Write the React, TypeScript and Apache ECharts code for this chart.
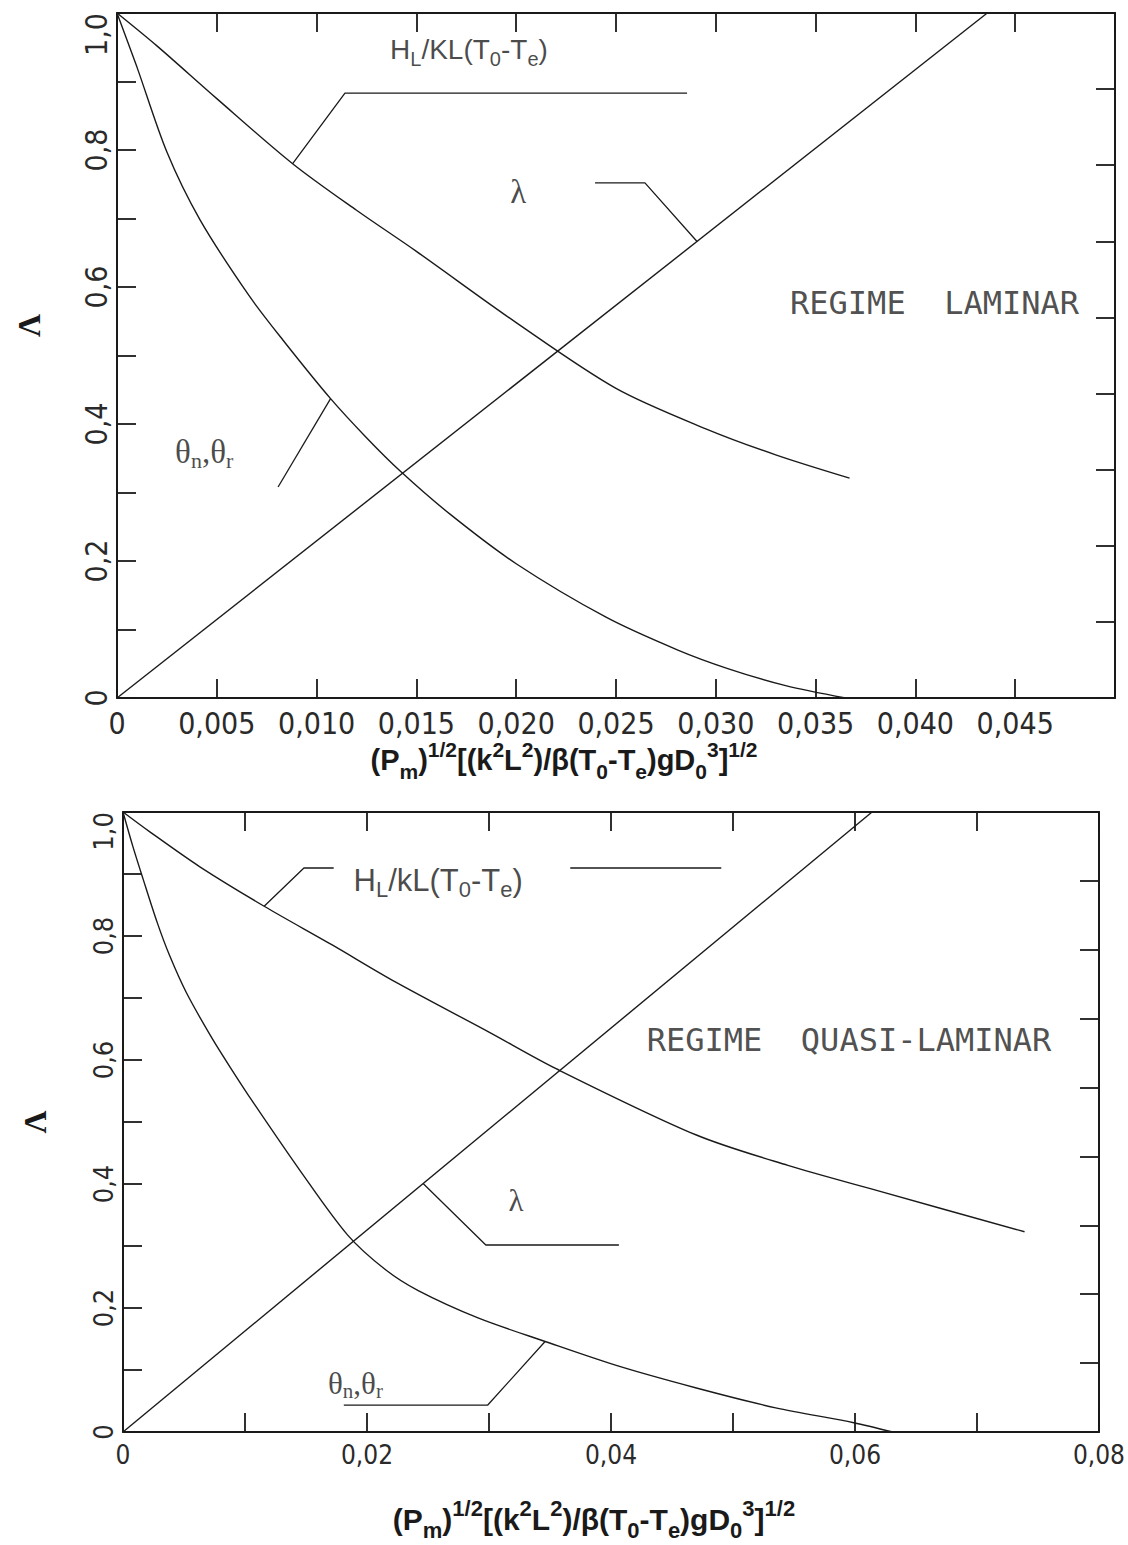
import React, { useEffect, useRef } from "react";
import * as echarts from "echarts";

// ---------- Upper panel: laminar regime ----------
const LAM_H_X = [0, 0.002, 0.005, 0.0088, 0.012, 0.015, 0.02, 0.025, 0.0295, 0.033, 0.0367];
const LAM_H_Y = [1.0, 0.952, 0.875, 0.78, 0.712, 0.652, 0.548, 0.452, 0.393, 0.355, 0.321];

const LAM_THETA_X = [0, 0.001, 0.0025, 0.00416, 0.0066, 0.0083, 0.0107, 0.0125, 0.0142, 0.0167, 0.02, 0.0245, 0.0281, 0.0306, 0.0335, 0.0365];
const LAM_THETA_Y = [1.0, 0.921, 0.797, 0.698, 0.588, 0.523, 0.437, 0.38, 0.331, 0.268, 0.196, 0.118, 0.07, 0.043, 0.018, 0];

const LAM_LAMBDA_X = [0, 0.0436];
const LAM_LAMBDA_Y = [0, 1.0];

const LAM_X_LABELS = ["0", "0,005", "0,010", "0,015", "0,020", "0,025", "0,030", "0,035", "0,040", "0,045", ""];

// ---------- Lower panel: quasi-laminar regime ----------
const QL_H_X = [0, 0.0022, 0.00627, 0.01157, 0.01711, 0.02232, 0.03, 0.0355, 0.047, 0.0545, 0.0617, 0.0739];
const QL_H_Y = [1.0, 0.968, 0.912, 0.848, 0.786, 0.726, 0.645, 0.586, 0.479, 0.43, 0.39, 0.323];

const QL_THETA_X = [0, 0.0008, 0.00163, 0.0028, 0.00383, 0.00521, 0.00733, 0.00896, 0.01059, 0.0145, 0.0184, 0.0215, 0.0242, 0.0291, 0.0346, 0.0405, 0.047, 0.0535, 0.0599, 0.0631];
const QL_THETA_Y = [1.0, 0.945, 0.893, 0.822, 0.768, 0.708, 0.634, 0.583, 0.534, 0.422, 0.318, 0.262, 0.228, 0.184, 0.146, 0.107, 0.071, 0.039, 0.015, 0];

const QL_LAMBDA_X = [0, 0.0614];
const QL_LAMBDA_Y = [0, 1.0];

const QL_X_LABELS = ["0", "", "0,02", "", "0,04", "", "0,06", "", "0,08"];

const Y_LABELS = ["0", "", "0,2", "", "0,4", "", "0,6", "", "0,8", "", "1,0"];

const INK = "#1a1a1a";
const TICK_FONT = "'DejaVu Sans Condensed', 'Liberation Sans Narrow', 'Liberation Sans', sans-serif";
const SANS = "'Liberation Sans', Arial, sans-serif";
const SERIF = "'Liberation Serif', 'Times New Roman', serif";

const zip = (xs: number[], ys: number[]) => xs.map((x, i) => [x, ys[i]]);

const TITLE_TEXT =
  "{n|(P}{b|m}{n|)}{t|1/2}{n|[(k}{t|2}{n|L}{t|2}{n|)/β(T}{b|0}{n|-T}{b|e}{n|)gD}{b|0}{t|3}{n|]}{t|1/2}";

const titleRich = (size: number) => {
  const small = Math.round(size * 0.72);
  return {
    n: { fontFamily: SANS, fontWeight: "bold", fontSize: size, lineHeight: size + 14, color: INK },
    t: { fontFamily: SANS, fontWeight: "bold", fontSize: small, lineHeight: small + 1, verticalAlign: "top", color: INK },
    b: { fontFamily: SANS, fontWeight: "bold", fontSize: small, lineHeight: small + 1, verticalAlign: "bottom", color: INK },
  };
};

const annRich = (size: number, greek: number) => ({
  a: { fontFamily: SANS, fontSize: size, lineHeight: size + 10, color: INK },
  as: { fontFamily: SANS, fontSize: Math.round(size * 0.7), lineHeight: Math.round(size * 0.7) + 1, verticalAlign: "bottom", color: INK },
  g: { fontFamily: SERIF, fontSize: greek, lineHeight: greek + 6, color: INK },
  gs: { fontFamily: SERIF, fontSize: Math.round(greek * 0.68), lineHeight: Math.round(greek * 0.68) + 1, verticalAlign: "bottom", color: INK },
  r: { fontFamily: "'DejaVu Sans Mono', monospace", fontSize: 32, lineHeight: 40, color: "#222" },
});

const axisLine = { show: true, onZero: false, lineStyle: { color: INK, width: 2 } };
const axisTick = { show: true, inside: true, length: 19, lineStyle: { color: INK, width: 1.8 } };

function curve(xs: number[], ys: number[], xi: number, yi: number, smooth = true) {
  return {
    type: "line",
    xAxisIndex: xi,
    yAxisIndex: yi,
    data: zip(xs, ys),
    showSymbol: false,
    symbol: "none",
    smooth: smooth ? 0.3 : false,
    lineStyle: { color: INK, width: 1.4 },
    silent: true,
    z: 3,
  };
}

function leader(points: number[][], xi: number, yi: number) {
  return {
    type: "line",
    xAxisIndex: xi,
    yAxisIndex: yi,
    data: points,
    showSymbol: false,
    symbol: "none",
    lineStyle: { color: INK, width: 1.3 },
    silent: true,
    z: 2,
  };
}

function notes(items: { at: number[]; text: string }[], xi: number, yi: number, size: number, greek: number) {
  return {
    type: "scatter",
    xAxisIndex: xi,
    yAxisIndex: yi,
    symbolSize: 0,
    silent: true,
    data: items.map((it) => ({ value: it.at, label: { formatter: it.text } })),
    label: { show: true, position: "right", distance: 0, rich: annRich(size, greek) },
    z: 4,
  };
}

export default function App() {
  const ref = useRef<HTMLDivElement>(null);

  useEffect(() => {
    if (!ref.current) return;
    const chart = echarts.init(ref.current, undefined, { renderer: "svg" });

    const yLabel = (v: number) => Y_LABELS[Math.round(v * 10)] ?? "";

    const leftY = (grid: number, size: number, lift: number) => ({
      gridIndex: grid,
      type: "value",
      position: "left",
      min: 0,
      max: 1,
      interval: 0.1,
      axisLine,
      axisTick,
      splitLine: { show: false },
      axisLabel: {
        rotate: 90,
        formatter: yLabel,
        alignMaxLabel: "right",
        margin: 6,
        fontSize: size,
        fontFamily: TICK_FONT,
        color: "#2a2a2a",
      },
      name: "Λ",
      nameLocation: "middle",
      nameRotate: 90,
      nameGap: 72,
      nameTextStyle: {
        fontFamily: SERIF,
        fontWeight: "bold",
        fontSize: 32,
        color: INK,
        padding: [0, 0, 0, lift],
      },
    });

    const rightY = (grid: number) => ({
      gridIndex: grid,
      type: "value",
      position: "right",
      min: 0,
      max: 9,
      interval: 1,
      axisLine,
      axisTick,
      splitLine: { show: false },
      axisLabel: { show: false },
    });

    const topX = (grid: number, max: number, interval: number) => ({
      gridIndex: grid,
      type: "value",
      position: "top",
      min: 0,
      max,
      interval,
      axisLine,
      axisTick,
      splitLine: { show: false },
      axisLabel: { show: false },
    });

    const option = {
      animation: false,
      backgroundColor: "#ffffff",
      grid: [
        { left: 117, top: 13, width: 998, height: 685 },
        { left: 123, top: 812, width: 982, height: 620 },
      ],
      xAxis: [
        {
          gridIndex: 0,
          type: "value",
          position: "bottom",
          min: 0,
          max: 0.05,
          interval: 0.005,
          axisLine,
          axisTick,
          splitLine: { show: false },
          axisLabel: {
            formatter: (v: number) => LAM_X_LABELS[Math.round(v / 0.005)] ?? "",
            fontSize: 30,
            fontFamily: TICK_FONT,
            color: "#2a2a2a",
            margin: 10,
          },
          name: TITLE_TEXT,
          nameLocation: "middle",
          nameGap: 35,
          nameTextStyle: { rich: titleRich(29), padding: [0, 104, 0, 0] },
        },
        topX(0, 0.05, 0.005),
        {
          gridIndex: 1,
          type: "value",
          position: "bottom",
          min: 0,
          max: 0.08,
          interval: 0.01,
          axisLine,
          axisTick,
          splitLine: { show: false },
          axisLabel: {
            formatter: (v: number) => QL_X_LABELS[Math.round(v / 0.01)] ?? "",
            fontSize: 26,
            fontFamily: TICK_FONT,
            color: "#2a2a2a",
            margin: 10,
          },
          name: TITLE_TEXT,
          nameLocation: "middle",
          nameGap: 65,
          nameTextStyle: { rich: titleRich(30), padding: [0, 34, 0, 0] },
        },
        topX(1, 0.08, 0.01),
      ],
      yAxis: [leftY(0, 30, 60), rightY(0), leftY(1, 27, 0), rightY(1)],
      series: [
        // upper panel curves
        curve(LAM_H_X, LAM_H_Y, 0, 0),
        curve(LAM_THETA_X, LAM_THETA_Y, 0, 0),
        curve(LAM_LAMBDA_X, LAM_LAMBDA_Y, 0, 0, false),
        leader([[0.0088, 0.78], [0.01142, 0.883], [0.02856, 0.883]], 0, 0),
        leader([[0.02395, 0.752], [0.02645, 0.752], [0.02906, 0.6665]], 0, 0),
        leader([[0.00807, 0.308], [0.0107, 0.437]], 0, 0),
        notes(
          [
            { at: [0.01368, 0.946], text: "{a|H}{as|L}{a|/KL(T}{as|0}{a|-T}{as|e}{a|)}" },
            { at: [0.0197, 0.739], text: "{g|λ}" },
            { at: [0.03372, 0.577], text: "{r|REGIME  LAMINAR}" },
            { at: [0.00291, 0.359], text: "{g|θ}{gs|n}{g|,θ}{gs|r}" },
          ],
          0,
          0,
          28,
          33
        ),
        // lower panel curves
        curve(QL_H_X, QL_H_Y, 2, 2),
        curve(QL_THETA_X, QL_THETA_Y, 2, 2),
        curve(QL_LAMBDA_X, QL_LAMBDA_Y, 2, 2, false),
        leader([[0.01157, 0.848], [0.01483, 0.9097], [0.01727, 0.9097]], 2, 2),
        leader([[0.03666, 0.9097], [0.04904, 0.9097]], 2, 2),
        leader([[0.0246, 0.4007], [0.02974, 0.3016], [0.04065, 0.3016]], 2, 2),
        leader([[0.0181, 0.0435], [0.0299, 0.0435], [0.0346, 0.146]], 2, 2),
        notes(
          [
            { at: [0.0189, 0.89], text: "{a|H}{as|L}{a|/kL(T}{as|0}{a|-T}{as|e}{a|)}" },
            { at: [0.0316, 0.374], text: "{g|λ}" },
            { at: [0.04293, 0.632], text: "{r|REGIME  QUASI-LAMINAR}" },
            { at: [0.0168, 0.079], text: "{g|θ}{gs|n}{g|,θ}{gs|r}" },
          ],
          2,
          2,
          31,
          31
        ),
      ],
    };

    chart.setOption(option as any);
    return () => chart.dispose();
  }, []);

  return (
    <div
      ref={ref}
      style={{ position: "absolute", left: 0, top: 0, width: 1128, height: 1545, background: "#fff" }}
    />
  );
}
